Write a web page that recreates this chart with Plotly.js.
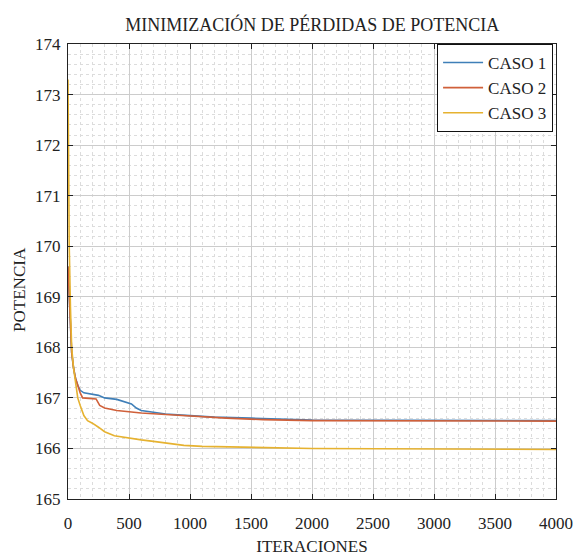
<!DOCTYPE html>
<html>
<head>
<meta charset="utf-8">
<script src="https://cdn.plot.ly/plotly-3.0.1.min.js"></script>
<style>body{margin:0;padding:0;background:#fff}#chart{width:573px;height:556px}</style>
</head>
<body>
<div id="chart"></div>
<script>
const caso1X = [0, 10, 20, 30, 45, 60, 80, 100, 130, 250, 300, 400, 520, 560, 600, 700, 800, 1000, 1200, 1500, 1700, 2000, 4000];
const caso1Y = [169.6, 168.9, 168.3, 167.9, 167.6, 167.4, 167.25, 167.15, 167.1, 167.05, 167.0, 166.97, 166.88, 166.8, 166.75, 166.72, 166.68, 166.65, 166.62, 166.6, 166.58, 166.56, 166.55];
const caso2X = [0, 10, 20, 30, 45, 60, 80, 100, 120, 230, 260, 300, 400, 600, 800, 1000, 1300, 1600, 2000, 4000];
const caso2Y = [169.6, 168.9, 168.3, 167.9, 167.6, 167.4, 167.25, 167.1, 167.0, 166.98, 166.85, 166.8, 166.75, 166.7, 166.67, 166.64, 166.6, 166.57, 166.55, 166.54];
const caso3X = [0, 5, 10, 20, 30, 45, 60, 80, 100, 130, 160, 200, 250, 300, 380, 450, 500, 600, 700, 800, 950, 1100, 1430, 2000, 4000];
const caso3Y = [173.3, 171.5, 170.0, 168.8, 168.0, 167.6, 167.3, 167.0, 166.85, 166.65, 166.55, 166.5, 166.42, 166.33, 166.25, 166.22, 166.2, 166.17, 166.14, 166.11, 166.06, 166.04, 166.02, 166.0, 165.98];
const names = ['CASO 1', 'CASO 2', 'CASO 3'];
const colors = ['#3f7fb8', '#d0603a', '#e6b230'];

const font = "'Liberation Serif', 'Times New Roman', serif";
const xs = [caso1X, caso2X, caso3X], ys = [caso1Y, caso2Y, caso3Y];
const traces = xs.map((x, i) => ({
  x: x, y: ys[i], name: names[i], type: 'scatter', mode: 'lines',
  line: {color: colors[i], width: 1.6}
}));

const axisCommon = {
  showline: true, linecolor: '#222', linewidth: 1, mirror: 'ticks',
  ticks: 'inside', ticklen: 5, tickcolor: '#222',
  showgrid: true, gridcolor: '#cccccc', gridwidth: 1, zeroline: false,
  tickfont: {family: font, size: 17, color: '#222'}
};

const layout = {
  width: 573, height: 556,
  margin: {l: 68, r: 17, t: 44, b: 57},
  paper_bgcolor: '#fff', plot_bgcolor: '#fff',
  font: {family: font},
  title: {text: 'MINIMIZACIÓN DE PÉRDIDAS DE POTENCIA', font: {family: font, size: 18, color: '#222'}, x: 0.545, xanchor: 'center', y: 0.955, yanchor: 'middle'},
  xaxis: Object.assign({}, axisCommon, {
    range: [0, 4000], dtick: 500, tick0: 0, ticklabelstandoff: 9,
    minor: {dtick: 100, showgrid: true, gridcolor: '#dcdcdc', griddash: 'dot', gridwidth: 1, ticks: ''},
    title: {text: 'ITERACIONES', font: {family: font, size: 17, color: '#222'}, standoff: 12}
  }),
  yaxis: Object.assign({}, axisCommon, {
    range: [165, 174], dtick: 1, tick0: 165, ticklabelstandoff: 3,
    minor: {dtick: 0.2, showgrid: true, gridcolor: '#dcdcdc', griddash: 'dot', gridwidth: 1, ticks: ''}
  }),
  annotations: [{
    text: 'POTENCIA', xref: 'paper', yref: 'paper', x: -0.098, y: 0.46,
    xanchor: 'center', yanchor: 'middle', textangle: -90, showarrow: false,
    font: {family: font, size: 17, color: '#222'}
  }],
  legend: {
    x: 0.994, xanchor: 'right', y: 1.0, yanchor: 'top',
    bgcolor: '#fff', bordercolor: '#111', borderwidth: 1,
    font: {family: font, size: 17, color: '#222'},
    tracegroupgap: 0, itemwidth: 40
  },
  showlegend: true
};

Plotly.newPlot('chart', traces, layout, {displayModeBar: false, staticPlot: true});
</script>
</body>
</html>
